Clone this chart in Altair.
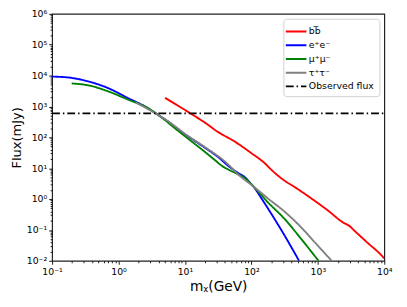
import altair as alt
import pandas as pd

# ---- data (mass in GeV, flux in mJy) ----
bb_m = [5.01, 10.5, 23.1, 29.0, 57.3, 101, 158, 199, 313, 440, 551, 971, 1361, 2399, 3013, 3573, 5297, 9333, 10000]
bb_f = [1905, 719, 240, 167, 70.8, 30.2, 14.6, 8.95, 3.98, 2.51, 1.82, 0.776, 0.457, 0.174, 0.132, 0.0933, 0.0427, 0.0141, 0.0120]

ee_m = [0.1, 0.178, 0.352, 0.693, 1.37, 2.41, 3.78, 5.32, 10.5, 20.7, 31.6, 45.6, 63.1, 80.5, 97.7, 115, 141, 177, 313, 521]
ee_f = [9290, 8650, 6460, 3950, 1900, 1040, 565, 347, 117, 43.7, 22.9, 11.5, 7.0, 5.0, 3.16, 2.09, 1.07, 0.50, 0.068, 0.01]

mm_m = [0.197, 0.352, 0.693, 1.37, 2.70, 4.47, 7.08, 10.5, 20.7, 29.0, 36.3, 45.6, 63.1, 80.5, 97.7, 177, 313, 551, 1023]
mm_f = [5570, 4820, 3100, 1690, 916, 437, 195, 100, 31.6, 17.4, 11.7, 8.91, 6.31, 4.68, 3.16, 0.785, 0.232, 0.0537, 0.01]

tt_m = [1.80, 2.70, 5.32, 10.5, 20.7, 40.8, 67.9, 100, 177, 313, 551, 971, 1614]
tt_f = [1350, 851, 355, 120, 45.7, 15.8, 5.50, 2.88, 1.05, 0.398, 0.126, 0.0331, 0.01]

obs_m = [0.1, 10000]
obs_f = [600, 600]

series_names = ["bb\u0305", "e\u207ae\u207b", "\u03bc\u207a\u03bc\u207b", "\u03c4\u207a\u03c4\u207b", "Observed flux"]
series_colors = ["#ff0000", "#0000ff", "#008000", "#808080", "#000000"]
series_dash = [[1, 0], [1, 0], [1, 0], [1, 0], [8, 3, 1.5, 3]]

x_labels_exp = [-1, 0, 1, 2, 3, 4]
y_labels_exp = [-2, -1, 0, 1, 2, 3, 4, 5, 6]
sup = ["\u207b\u00b2", "\u207b\u00b9", "\u2070", "\u00b9", "\u00b2", "\u00b3", "\u2074", "\u2075", "\u2076"]

def frame(m, f, name):
    return pd.DataFrame({"m": m, "f": f, "series": name})

dfs = [frame(bb_m, bb_f, series_names[0]),
       frame(ee_m, ee_f, series_names[1]),
       frame(mm_m, mm_f, series_names[2]),
       frame(tt_m, tt_f, series_names[3])]
obs_df = frame(obs_m, obs_f, series_names[4])

x_major = [10.0 ** e for e in x_labels_exp]
y_major = [10.0 ** e for e in y_labels_exp]
x_minor = [k * 10.0 ** e for e in x_labels_exp[:-1] for k in range(2, 10)]
y_minor = [k * 10.0 ** e for e in y_labels_exp[:-1] for k in range(2, 10)]

sup_js = "[" + ",".join("'" + s + "'" for s in sup) + "]"
lab_expr = ("'10' + " + sup_js + "[round(log(datum.value)/LN10) + 2]")

xs = alt.Scale(type="log", domain=[0.1, 10000], nice=False)
ys = alt.Scale(type="log", domain=[0.01, 1e6], nice=False)

color = alt.Color("series:N", scale=alt.Scale(domain=series_names, range=series_colors),
                  legend=alt.Legend(title=None, orient="top-right", offset=5))
dash = alt.StrokeDash("series:N", scale=alt.Scale(domain=series_names, range=series_dash),
                      legend=alt.Legend(title=None, orient="top-right", offset=5))

x_major_axis = alt.Axis(values=x_major, labelExpr=lab_expr, orient="bottom", title="m\u1d6a(GeV)",
                        tickSize=3.5, labelFontSize=9.5, titleFontSize=14, titleFontWeight="normal",
                        labelPadding=2, titlePadding=4, grid=False, domain=False, labelFlush=False)
y_major_axis = alt.Axis(values=y_major, labelExpr=lab_expr, orient="left", title="Flux(mJy)",
                        tickSize=3.5, labelFontSize=9.5, titleFontSize=13.3, titleFontWeight="normal",
                        labelPadding=2, titleX=-36, titleY=126, titleBaseline="middle",
                        grid=False, domain=False, labelFlush=False)
x_minor_axis = alt.Axis(values=x_minor, labels=False, orient="bottom", title=None, tickSize=2,
                        grid=False, domain=False)
y_minor_axis = alt.Axis(values=y_minor, labels=False, orient="left", title=None, tickSize=2,
                        grid=False, domain=False)

layers = []
for i, d in enumerate(dfs):
    xa = x_major_axis if i == 0 else None
    ya = y_major_axis if i == 0 else None
    layers.append(
        alt.Chart(d).mark_line(strokeWidth=1.9, clip=True, interpolate="monotone").encode(
            x=alt.X("m:Q", scale=xs, axis=xa),
            y=alt.Y("f:Q", scale=ys, axis=ya),
            color=color, strokeDash=dash
        )
    )

layers.append(
    alt.Chart(obs_df).mark_line(strokeWidth=1.8, clip=True).encode(
        x=alt.X("m:Q", scale=xs, axis=x_minor_axis),
        y=alt.Y("f:Q", scale=ys, axis=y_minor_axis),
        color=color, strokeDash=dash
    )
)

chart = alt.layer(*layers).resolve_scale(x="independent", y="independent").resolve_axis(
    x="independent", y="independent"
).properties(
    width=339, height=252,
    autosize=alt.AutoSizeParams(type="none"),
    padding={"left": 45, "top": 3, "right": 15, "bottom": 36},
).configure(font="DejaVu Sans").configure_view(
    stroke="#222", strokeWidth=1.2
).configure_axis(
    tickColor="#000", labelColor="#000", titleColor="#000", tickWidth=0.9
).configure_legend(
    symbolType="M-1.5,0L1.5,0", symbolSize=196, symbolStrokeWidth=2,
    labelFontSize=9.5, labelColor="#000", labelOffset=5, rowPadding=1,
    strokeColor="#d0d0d0", fillColor="#ffffff", padding=5, cornerRadius=3,
)

chart.save("out.html", embed_options={"renderer": "svg", "actions": False})
